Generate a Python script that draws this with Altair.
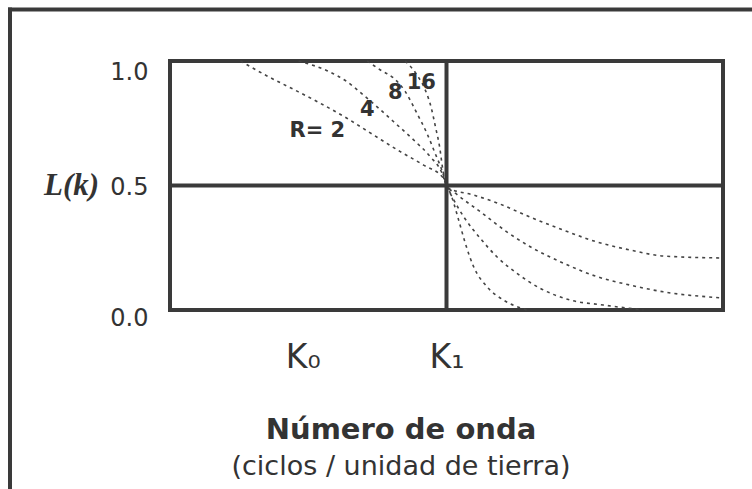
import altair as alt
import pandas as pd

# Response curves L(k) for several roll-off values R (pass above K1, reject below)
R_VALUES = [2, 4, 8, 16]

R2_X = [0.255, 0.351, 0.447, 0.544, 0.640, 0.736, 0.833, 0.917, 0.989, 1.0,
        1.006, 1.097, 1.183, 1.303, 1.422, 1.545, 1.664, 1.783, 1.989]
R2_Y = [1.0, 0.940, 0.886, 0.830, 0.770, 0.703, 0.636, 0.582, 0.529, 0.5,
        0.490, 0.462, 0.430, 0.373, 0.321, 0.273, 0.241, 0.217, 0.209]

R4_X = [0.465, 0.568, 0.640, 0.700, 0.749, 0.809, 0.881, 0.941, 0.984, 1.0,
        1.032, 1.122, 1.218, 1.303, 1.423, 1.544, 1.664, 1.784, 1.989]
R4_Y = [1.0, 0.961, 0.917, 0.863, 0.816, 0.756, 0.683, 0.616, 0.549, 0.5,
        0.469, 0.395, 0.314, 0.254, 0.188, 0.134, 0.100, 0.073, 0.049]

R8_X = [0.713, 0.761, 0.809, 0.851, 0.893, 0.929, 0.959, 0.987, 1.0,
        1.020, 1.062, 1.122, 1.182, 1.255, 1.339, 1.447, 1.567, 1.712]
R8_Y = [1.0, 0.964, 0.931, 0.877, 0.790, 0.710, 0.629, 0.549, 0.5,
        0.455, 0.375, 0.288, 0.214, 0.147, 0.087, 0.040, 0.020, 0.0]

R16_X = [0.851, 0.893, 0.923, 0.944, 0.960, 0.975, 0.987, 1.0,
         1.014, 1.044, 1.068, 1.098, 1.146, 1.206, 1.291]
R16_Y = [1.0, 0.944, 0.884, 0.816, 0.736, 0.656, 0.562, 0.5,
         0.469, 0.361, 0.268, 0.174, 0.094, 0.040, 0.0]

# Curve annotations
LABEL_TEXT = ["R= 2", "4", "8", "16"]
LABEL_X = [0.533, 0.714, 0.815, 0.909]
LABEL_Y = [0.719, 0.803, 0.871, 0.912]

# Axis ticks and titles
Y_TICKS = [0.0, 0.5, 1.0]
K0, K1 = 0.48, 1.0
X_DOMAIN = [0, 2]
X_TITLE = "Número de onda"
X_SUBTITLE = "(ciclos / unidad de tierra)"

INK = "#3a3a3a"
TEXT = "#333333"

rows = []
for r, xs, ys in zip(R_VALUES, [R2_X, R4_X, R8_X, R16_X], [R2_Y, R4_Y, R8_Y, R16_Y]):
    for i, (x, y) in enumerate(zip(xs, ys)):
        rows.append({"R": r, "k": x, "L": y, "i": i})
curves = pd.DataFrame(rows)
labels = pd.DataFrame({"k": LABEL_X, "L": LABEL_Y, "text": LABEL_TEXT})

xscale = alt.Scale(domain=X_DOMAIN, nice=False)
yscale = alt.Scale(domain=[0, 1], nice=False)

x_axis = alt.Axis(
    values=[K0, K1], labelExpr="datum.value == 1 ? 'K₁' : 'K₀'",
    grid=False, ticks=False, tickSize=0, domain=False, labelFlush=False,
    labelFont="DejaVu Sans", labelFontSize=33, labelColor=TEXT, labelPadding=31,
    title=None,
)
y_axis = alt.Axis(
    values=Y_TICKS, format=".1f", grid=False, ticks=False, tickSize=0, domain=False,
    labelFont="DejaVu Sans", labelFontSize=24, labelColor=TEXT, labelPadding=22,
    labelOffset={"condition": [{"test": "datum.value == 1", "value": 11},
                               {"test": "datum.value == 0", "value": 8}],
                 "value": 2},
    title="L(k)", titleAngle=0, titleAlign="center", titleBaseline="middle",
    titleX=-99, titleY=124, titleFont="Liberation Serif", titleFontSize=31,
    titleFontStyle="italic", titleFontWeight="bold", titleColor=TEXT,
)

lines = alt.Chart(curves).mark_line(
    color="#444444", strokeWidth=1.6, strokeDash=[3, 4], interpolate="monotone"
).encode(
    x=alt.X("k:Q", scale=xscale, axis=x_axis),
    y=alt.Y("L:Q", scale=yscale, axis=y_axis),
    detail="R:N",
    order="i:Q",
)

hrule = alt.Chart(pd.DataFrame({"L": [0.5]})).mark_rule(
    color=INK, strokeWidth=4).encode(y=alt.Y("L:Q", scale=yscale))
vrule = alt.Chart(pd.DataFrame({"k": [K1]})).mark_rule(
    color=INK, strokeWidth=4).encode(x=alt.X("k:Q", scale=xscale))

text = alt.Chart(labels).mark_text(
    font="DejaVu Sans", fontSize=21, fontWeight="bold", color=TEXT,
    align="center", baseline="middle",
).encode(x=alt.X("k:Q", scale=xscale), y=alt.Y("L:Q", scale=yscale), text="text:N")

# Two-line x title under the axis: bold name, plain units
title_main = alt.Chart(pd.DataFrame({"t": [X_TITLE]})).mark_text(
    font="DejaVu Sans", fontSize=29, fontWeight="bold", color=TEXT,
    align="center", baseline="middle",
).encode(x=alt.value(231), y=alt.value(369), text="t:N")
title_sub = alt.Chart(pd.DataFrame({"t": [X_SUBTITLE]})).mark_text(
    font="DejaVu Sans", fontSize=27, color=TEXT, align="center", baseline="middle",
).encode(x=alt.value(231), y=alt.value(406), text="t:N")

# Outer frame (top and left edges of the figure border)
frame_top = alt.Chart(pd.DataFrame({"a": [0]})).mark_rule(color=INK, strokeWidth=4).encode(
    x=alt.value(-162), x2=alt.value(590), y=alt.value(-51.5))
frame_left = alt.Chart(pd.DataFrame({"a": [0]})).mark_rule(color=INK, strokeWidth=4).encode(
    x=alt.value(-160), y=alt.value(-53.5), y2=alt.value(440))

chart = alt.layer(
    lines, hrule, vrule, text, title_main, title_sub, frame_top, frame_left
).properties(
    width=553, height=249,
    background="white",
    autosize=alt.AutoSizeParams(type="none"),
    padding={"left": 170, "top": 61, "right": 29, "bottom": 179},
).configure_view(stroke=INK, strokeWidth=4)

chart.save("out.html", embed_options={"renderer": "svg", "actions": False})
